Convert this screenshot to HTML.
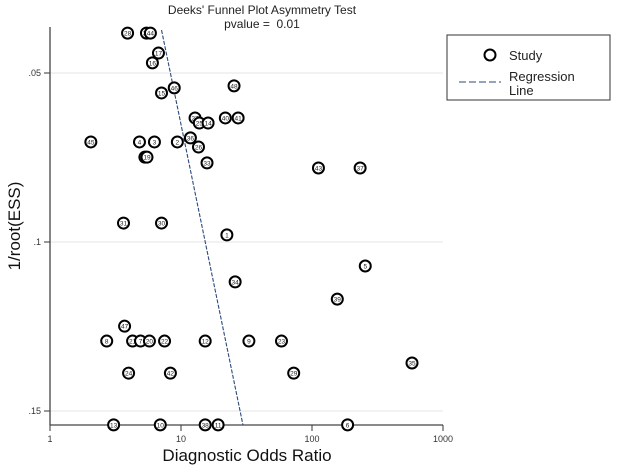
<!DOCTYPE html>
<html><head><meta charset="utf-8"><style>
body{margin:0;background:#fff;}
svg{display:block;font-family:"Liberation Sans",Arial,sans-serif;}
</style></head><body>
<svg id="chart" width="621" height="468" viewBox="0 0 621 468"></svg>
<script>
const studyLabels = ["28","32","44","17","16","15","46","48","27","25","14","40","41","45","4","3","2","36","26","18","19","33","43","37","31","30","1","34","5","39","47","8","21","7","20","22","12","9","23","29","35","24","42","13","10","38","11","6"];
const oddsRatios = [3.91,5.45,5.84,6.73,6.05,7.10,8.88,25.4,12.8,13.8,16.1,21.8,27.3,2.05,4.82,6.27,9.38,11.8,13.6,5.3,5.5,15.8,112,233,3.64,7.10,22.4,25.9,255,156,3.71,2.71,4.27,4.91,5.74,7.49,15.3,33.0,58.5,72.5,580,3.98,8.3,3.06,6.95,15.3,19.2,187];
const invRootEss = [0.0382,0.0382,0.0382,0.0441,0.0470,0.0559,0.0544,0.0538,0.0633,0.0648,0.0648,0.0633,0.0633,0.0704,0.0704,0.0704,0.0704,0.0692,0.0719,0.0749,0.0749,0.0766,0.0781,0.0781,0.0944,0.0944,0.0979,0.1118,0.1071,0.1169,0.1249,0.1293,0.1293,0.1293,0.1293,0.1293,0.1293,0.1293,0.1293,0.1388,0.1358,0.1388,0.1388,0.1541,0.1541,0.1541,0.1541,0.1541];
const regression = [0.653, 5.32]; // log10(DOR) = a + b * (1/root(ESS))
const xTicks = [1,10,100,1000];
const xTickLabels = ["1","10","100","1000"];
const yTicks = [0.05,0.1,0.15];
const yTickLabels = [".05",".1",".15"];

const NS="http://www.w3.org/2000/svg";
const svg=document.getElementById('chart');
const X0=50,X1=443,Y0=27,Y1=425;
const xs=v=>X0+131*Math.log10(v);
const ys=v=>73+(v-0.05)*3380;
function mk(t,a,txt){const e=document.createElementNS(NS,t);for(const k in a)e.setAttribute(k,a[k]);if(txt!=null)e.textContent=txt;svg.appendChild(e);return e;}

yTicks.forEach((t,i)=>{
  const g=mk('line',{x1:X0,x2:X1,y1:ys(t),y2:ys(t),stroke:'#e4e4e4','stroke-width':1});
  
  
  const tk=mk('line',{x1:X0-6,x2:X0,y1:ys(t),y2:ys(t),stroke:'#333'});
  
  
  const l=mk('text',{x:X0-9,y:ys(t)+3,'text-anchor':'end','font-size':9,fill:'#333'},yTickLabels[i]);
  
  
});
const ax=mk('line',{x1:X0,x2:X0,y1:Y0,y2:Y1,stroke:'#444','stroke-width':1.3});


const bx=mk('line',{x1:X0,x2:X1,y1:Y1,y2:Y1,stroke:'#444','stroke-width':1.3});


xTicks.forEach((t,i)=>{
  const tk=mk('line',{x1:xs(t),x2:xs(t),y1:Y1,y2:Y1+6,stroke:'#333'});
  
  
  const l=mk('text',{x:xs(t),y:Y1+17,'text-anchor':'middle','font-size':9,fill:'#333'},xTickLabels[i]);
  
  
});
const yA=0.0373,yB=0.1541;
const rl=mk('line',{x1:xs(Math.pow(10,regression[0]+regression[1]*yA)),y1:ys(yA),x2:xs(Math.pow(10,regression[0]+regression[1]*yB)),y2:ys(yB),stroke:'#2a4a7a','stroke-width':1.1,'stroke-dasharray':'4,1.5'});


oddsRatios.forEach((v,i)=>{
  const cx=xs(v),cy=ys(invRootEss[i]);
  const c=mk('circle',{cx:cx,cy:cy,r:5.5,fill:'#fff',stroke:'#000','stroke-width':2});
  
  
  const t=mk('text',{x:cx,y:cy+2.5,'text-anchor':'middle','font-size':6.5,fill:'#222'},studyLabels[i]);
  
  
});
</script>
<script>
(function(){
const NS="http://www.w3.org/2000/svg";const svg=document.getElementById('chart');
function mk(t,a,txt){const e=document.createElementNS(NS,t);for(const k in a)e.setAttribute(k,a[k]);if(txt!=null)e.textContent=txt;svg.appendChild(e);return e;}
let e;
e=mk('text',{x:262,y:14,'text-anchor':'middle','font-size':12,fill:'#222'},"Deeks' Funnel Plot Asymmetry Test");


e=mk('text',{x:262,y:28,'text-anchor':'middle','font-size':12,fill:'#222'},"pvalue =\u00a0 0.01");


e=mk('text',{x:247,y:461,'text-anchor':'middle','font-size':17,fill:'#111'},"Diagnostic Odds Ratio");


e=mk('text',{x:20,y:226,'text-anchor':'middle','font-size':17,fill:'#111',transform:'rotate(-90 20 226)'},"1/root(ESS)");


e=mk('rect',{x:447,y:35,width:163,height:65,fill:'#fff',stroke:'#333','stroke-width':1});


e=mk('circle',{cx:490,cy:55,r:5.5,fill:'#fff',stroke:'#000','stroke-width':2});


e=mk('text',{x:509,y:60,'font-size':13,fill:'#222'},"Study");


e=mk('line',{x1:459,x2:501,y1:82,y2:82,stroke:'#2a4a7a','stroke-width':1.1,'stroke-dasharray':'7,3'});


e=mk('text',{x:509,y:81,'font-size':13,fill:'#222'},"Regression");


e=mk('text',{x:509,y:95,'font-size':13,fill:'#222'},"Line");


})();
</script>
</body></html>
